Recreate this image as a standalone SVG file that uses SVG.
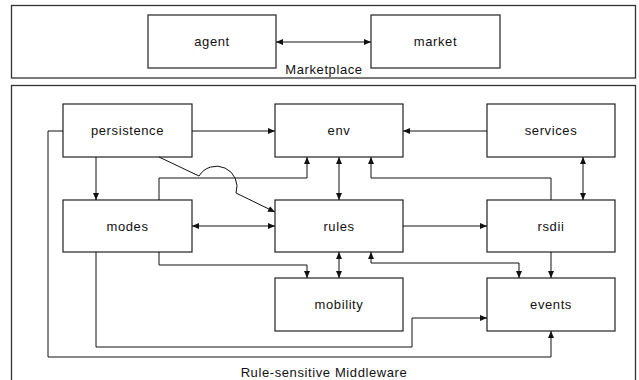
<svg xmlns="http://www.w3.org/2000/svg" width="639" height="380" viewBox="0 0 639 380">
<defs>
<marker id="arr" markerWidth="7" markerHeight="6" refX="7" refY="3" orient="auto-start-reverse" markerUnits="userSpaceOnUse">
<path d="M0,0 L7,3 L0,6 z" fill="#111"/>
</marker>
<style>
.frame{fill:#fff;stroke:#333;stroke-width:1.3}
.box{fill:#fff;stroke:#222;stroke-width:1.2}
.lbl{font-family:"Liberation Sans",Arial,sans-serif;font-size:13px;letter-spacing:0.6px;fill:#111;text-anchor:middle}
.c{fill:none;stroke:#111;stroke-width:1}
.e{marker-end:url(#arr)}
.b{marker-start:url(#arr);marker-end:url(#arr)}
</style>
</defs>
<rect width="639" height="380" fill="#fff"/>
<g id="marketplace">
<rect class="frame" x="11.5" y="5.5" width="624" height="72.5"/>
<text class="lbl" x="324" y="74">Marketplace</text>
</g>
<g id="middleware">
<rect class="frame" x="11.5" y="85.5" width="624" height="310"/>
<text class="lbl" x="324" y="377">Rule-sensitive Middleware</text>
</g>
<g id="agent"><rect class="box" x="148" y="15" width="128" height="53"/><text class="lbl" x="212" y="46">agent</text></g>
<g id="market"><rect class="box" x="371" y="15" width="129" height="53"/><text class="lbl" x="435.5" y="46">market</text></g>
<g id="persistence"><rect class="box" x="63" y="104" width="129" height="53"/><text class="lbl" x="127.5" y="135">persistence</text></g>
<g id="env"><rect class="box" x="275" y="104" width="128" height="53"/><text class="lbl" x="339" y="135">env</text></g>
<g id="services"><rect class="box" x="487" y="104" width="128" height="53"/><text class="lbl" x="551" y="135">services</text></g>
<g id="modes"><rect class="box" x="63" y="200" width="129" height="52"/><text class="lbl" x="127.5" y="230.5">modes</text></g>
<g id="rules"><rect class="box" x="275" y="200" width="128" height="52"/><text class="lbl" x="339" y="230.5">rules</text></g>
<g id="rsdii"><rect class="box" x="487" y="200" width="128" height="52"/><text class="lbl" x="551" y="230.5">rsdii</text></g>
<g id="mobility"><rect class="box" x="275" y="278" width="128" height="53"/><text class="lbl" x="339" y="309">mobility</text></g>
<g id="events"><rect class="box" x="487" y="278" width="128" height="53"/><text class="lbl" x="551" y="309">events</text></g>
<g id="connectors">
<path class="c b" d="M276,42 H371"/>
<path class="c e" d="M192,131 H275"/>
<path class="c e" d="M487,131 H403"/>
<path class="c e" d="M96,157 V200"/>
<path class="c e" d="M159,157 L199,176 A20.5,20.5 0 0 1 236,193 L275,212"/>
<path class="c e" d="M159,200 V178 H307 V157"/>
<path class="c b" d="M339,157 V200"/>
<path class="c e" d="M551,200 V178 H371 V157"/>
<path class="c b" d="M583,157 V200"/>
<path class="c b" d="M192,226 H275"/>
<path class="c e" d="M403,226 H487"/>
<path class="c e" d="M159,252 V265 H307 V278"/>
<path class="c b" d="M339,252 V278"/>
<path class="c b" d="M371,252 V263 H519 V278"/>
<path class="c e" d="M551,252 V278"/>
<path class="c e" d="M96,252 V347 H412 V318 H487"/>
<path class="c e" d="M63,131 H48 V357 H551 V331"/>
</g>
</svg>
